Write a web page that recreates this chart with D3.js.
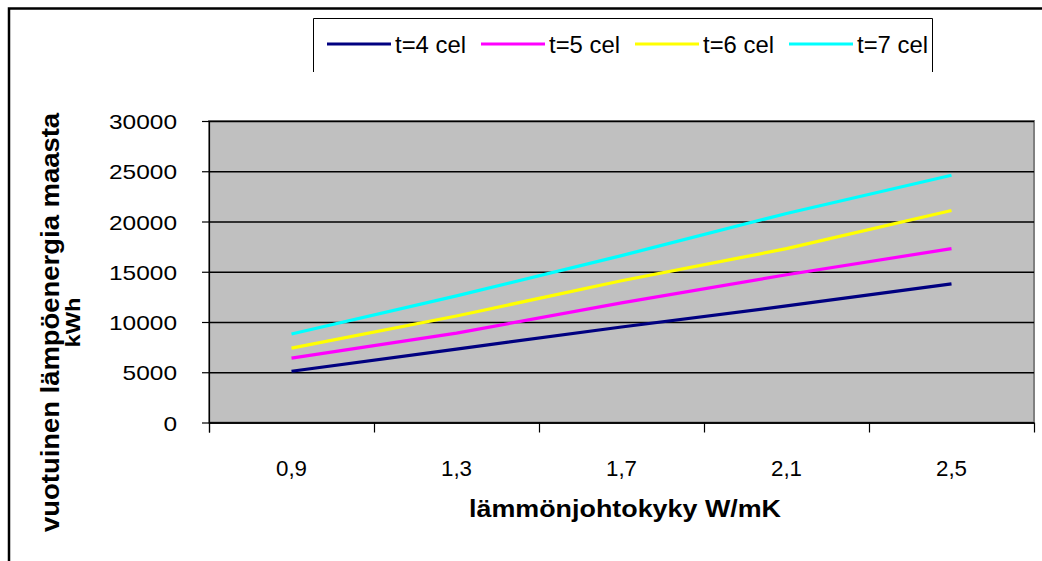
<!DOCTYPE html>
<html>
<head>
<meta charset="utf-8">
<script src="https://cdn.jsdelivr.net/npm/d3@7"></script>
<style>
  html, body { margin: 0; padding: 0; background: #fff; }
  svg { display: block; }
  text { font-family: "Liberation Sans", Arial, sans-serif; }
</style>
</head>
<body>
<svg id="chart" width="1042" height="561"></svg>
<script>
// Thermal conductivity categories (W/mK)
const categories = ["0,9", "1,3", "1,7", "2,1", "2,5"];
// Annual ground heat energy (kWh) for each series
const seriesNames = ["t=4 cel", "t=5 cel", "t=6 cel", "t=7 cel"];
const t4 = [5100, 7300, 9500, 11600, 13800];
const t5 = [6400, 8900, 11900, 14700, 17300];
const t6 = [7400, 10600, 14100, 17300, 21100];
const t7 = [8800, 12600, 16600, 20800, 24600];
const seriesColors = ["#000080", "#ff00ff", "#ffff00", "#00ffff"];
const yTicks = [0, 5000, 10000, 15000, 20000, 25000, 30000];

const series = [t4, t5, t6, t7].map((values, i) => ({
  name: seriesNames[i], color: seriesColors[i], values
}));

const svg = d3.select("#chart");
const W = 1042, H = 561;
svg.append("rect").attr("width", W).attr("height", H).attr("fill", "#fff");

// outer chart frame (only top and left edges fall inside the canvas)
svg.append("rect")
  .attr("x", 9).attr("y", 8.5).attr("width", 1200).attr("height", 700)
  .attr("fill", "none").attr("stroke", "#000").attr("stroke-width", 2.5);

const plot = { left: 209, right: 1034, top: 121, bottom: 422.5 };

const x = d3.scaleBand().domain(categories).range([plot.left, plot.right]).padding(0);
const xEdge = d3.scaleLinear().domain([0, categories.length]).range([plot.left, plot.right]);
const y = d3.scaleLinear().domain([0, 30000]).range([plot.bottom, plot.top]);

// plot area
svg.append("rect")
  .attr("x", plot.left).attr("y", plot.top)
  .attr("width", plot.right - plot.left).attr("height", plot.bottom - plot.top)
  .attr("fill", "#c0c0c0").attr("stroke", "#808080").attr("stroke-width", 2);

// horizontal gridlines
svg.append("g")
  .attr("transform", `translate(${plot.left},0)`)
  .call(d3.axisLeft(y).tickValues(yTicks).tickSize(-(plot.right - plot.left)).tickFormat(""))
  .call(g => g.select(".domain").remove())
  .call(g => g.selectAll("line").attr("stroke", "#000").attr("stroke-width", 1.5));

// y axis with tick marks and labels
const yAxis = svg.append("g")
  .attr("transform", `translate(${plot.left},0)`)
  .call(d3.axisLeft(y).tickValues(yTicks).tickSize(7).tickPadding(32).tickFormat(d3.format("d")));
yAxis.select(".domain").attr("stroke", "#000").attr("stroke-width", 1.2)
  .attr("d", `M0.5,${plot.top}V${plot.bottom + 10}`);
yAxis.selectAll(".tick line").attr("stroke", "#000").attr("stroke-width", 1.2);
yAxis.selectAll(".tick text")
  .attr("font-size", 21).attr("fill", "#000")
  .attr("text-anchor", "start")
  .attr("dy", null)
  .each(function(d) {
    const s = d3.format("d")(d);
    const len = s.length * 13.6;
    d3.select(this)
      .attr("x", 177 - plot.left - len)
      .attr("y", 7.5)
      .attr("textLength", len)
      .attr("lengthAdjust", "spacingAndGlyphs");
  });

// x axis line and category boundary ticks
svg.append("g")
  .attr("transform", `translate(0,${plot.bottom})`)
  .call(d3.axisBottom(xEdge).ticks(categories.length).tickSize(10).tickFormat(""))
  .call(g => g.select(".domain").attr("stroke", "#000").attr("stroke-width", 1.5)
    .attr("d", `M${plot.left},0.5H${plot.right}`))
  .call(g => g.selectAll("line").attr("stroke", "#000").attr("stroke-width", 1.2));

// category labels, centred in each band
svg.append("g")
  .attr("transform", `translate(0,${plot.bottom})`)
  .call(d3.axisBottom(x).tickSize(0).tickPadding(0))
  .call(g => g.select(".domain").remove())
  .call(g => g.selectAll("text")
    .attr("font-size", 22).attr("fill", "#000")
    .attr("dy", null).attr("y", 53)
    .attr("textLength", 31).attr("lengthAdjust", "spacingAndGlyphs"));

// series lines
const line = d3.line()
  .x((d, i) => x(categories[i]) + x.bandwidth() / 2)
  .y(d => y(d));

svg.append("g").selectAll("path")
  .data(series)
  .join("path")
  .attr("d", d => line(d.values))
  .attr("fill", "none")
  .attr("stroke", d => d.color)
  .attr("stroke-width", 3.2)
  .attr("stroke-linejoin", "round");

// axis titles
svg.append("text")
  .attr("x", 625).attr("y", 517)
  .attr("text-anchor", "middle")
  .attr("font-size", 24).attr("font-weight", "bold")
  .attr("textLength", 312).attr("lengthAdjust", "spacingAndGlyphs")
  .text("lämmönjohtokyky W/mK");

const yTitle = svg.append("g").attr("transform", "translate(0,322.5) rotate(-90)");
yTitle.append("text")
  .attr("x", 0).attr("y", 59)
  .attr("text-anchor", "middle")
  .attr("font-size", 26).attr("font-weight", "bold")
  .attr("textLength", 419).attr("lengthAdjust", "spacingAndGlyphs")
  .text("vuotuinen lämpöenergia maasta");
yTitle.append("text")
  .attr("x", 0).attr("y", 80)
  .attr("text-anchor", "middle")
  .attr("font-size", 21).attr("font-weight", "bold")
  .attr("textLength", 50).attr("lengthAdjust", "spacingAndGlyphs")
  .text("kWh");

// legend box (top, left and right edges)
svg.append("path")
  .attr("d", "M313.5,72V18.5H932.5V72")
  .attr("fill", "none").attr("stroke", "#000").attr("stroke-width", 1);

const legend = svg.append("g").selectAll("g")
  .data(series)
  .join("g")
  .attr("transform", (d, i) => `translate(${327 + i * 154},44)`);
legend.append("line")
  .attr("x1", 0).attr("x2", 64).attr("y1", 0).attr("y2", 0)
  .attr("stroke", d => d.color).attr("stroke-width", 3.2);
legend.append("text")
  .attr("x", 68).attr("y", 9)
  .attr("font-size", 24).attr("fill", "#000")
  .attr("textLength", 71).attr("lengthAdjust", "spacingAndGlyphs")
  .text(d => d.name);
</script>
</body>
</html>
